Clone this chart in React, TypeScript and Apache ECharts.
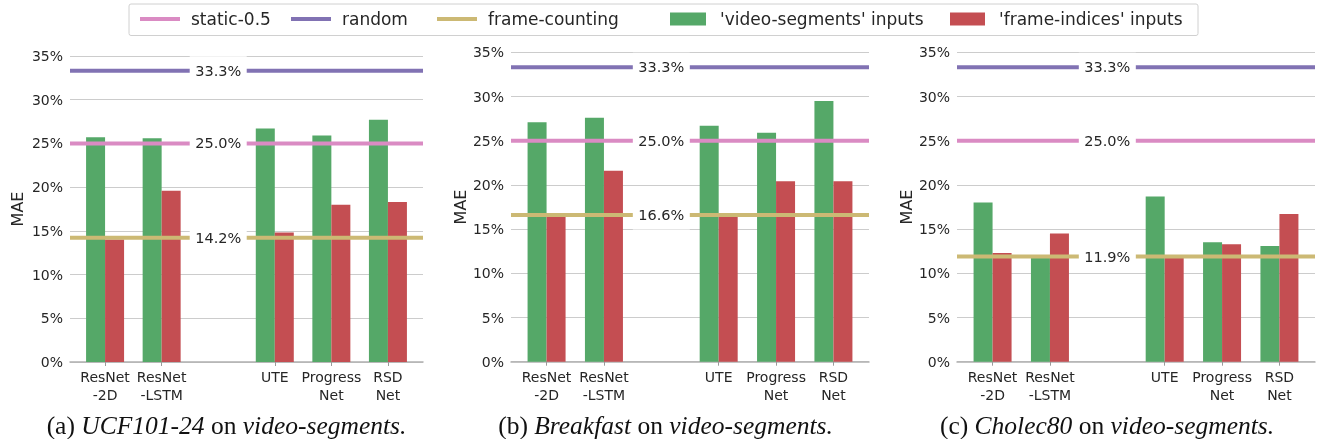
import React, { useEffect, useRef } from "react";
import * as echarts from "echarts";

// ---- data ----
const CATEGORY_LABELS = ["ResNet\n-2D", "ResNet\n-LSTM", "", "UTE", "Progress\nNet", "RSD\nNet"];
const CATEGORY_POS = [0, 1, 3, 4, 5];
const Y_TICKS = [0, 5, 10, 15, 20, 25, 30, 35];

const UCF_VIDEO = [25.7, 25.6, 26.7, 25.9, 27.7];
const UCF_FRAME = [14.0, 19.6, 14.8, 18.0, 18.3];
const BF_VIDEO = [27.1, 27.6, 26.7, 25.9, 29.5];
const BF_FRAME = [16.5, 21.6, 16.8, 20.4, 20.4];
const CH_VIDEO = [18.0, 11.8, 18.7, 13.5, 13.1];
const CH_FRAME = [12.3, 14.5, 11.8, 13.3, 16.7];

const STATIC_BASELINE = 25.0;
const RANDOM_BASELINE = 33.3;
const FRAME_COUNTING = [14.2, 16.6, 11.9];

const DATASETS = ["UCF101-24", "Breakfast", "Cholec80"];
const PANEL_LETTERS = ["(a)", "(b)", "(c)"];

const VS = "'video-segments' inputs";
const FI = "'frame-indices' inputs";

// ---- styles ----
const GREEN = "#55A868";
const RED = "#C44E52";
const PINK = "#DA8BC3";
const PURPLE = "#8172B3";
const KHAKI = "#CCB974";
const TEXT = "#262626";
const FONT = "DejaVu Sans";
const X_MIN = -0.62;
const X_MAX = 5.62;

const GRIDS = [
  { left: 70, top: 56, width: 353, height: 306 },
  { left: 511, top: 52.3, width: 358, height: 309.4 },
  { left: 957, top: 52.3, width: 358, height: 309.4 },
];
const NAME_GAPS = [45, 40, 42];
const CAPTION_X = [226.5, 665.5, 1107];

export default function App() {
  const ref = useRef<HTMLDivElement>(null);
  useEffect(() => {
    if (!ref.current) return;
    const chart = echarts.init(ref.current, undefined, { renderer: "svg" });
    const videoSets = [UCF_VIDEO, BF_VIDEO, CH_VIDEO];
    const frameSets = [UCF_FRAME, BF_FRAME, CH_FRAME];

    const xAxis: any[] = [];
    const yAxis: any[] = [];
    const series: any[] = [];
    GRIDS.forEach((_, i) => {
      xAxis.push({
        gridIndex: i,
        type: "value",
        min: X_MIN,
        max: X_MAX,
        splitLine: { show: false },
        axisLine: { show: true, lineStyle: { color: "#b0b0b0", width: 1.5 } },
        axisTick: { show: true, customValues: CATEGORY_POS, length: 4, lineStyle: { color: "#9a9a9a", width: 1 } },
        axisLabel: {
          customValues: CATEGORY_POS,
          formatter: (v: number) => CATEGORY_LABELS[Math.round(v)] ?? "",
          fontSize: 14,
          lineHeight: 18,
          color: TEXT,
          margin: 6,
          fontFamily: FONT,
        },
      });
      yAxis.push({
        gridIndex: i,
        type: "value",
        min: Y_TICKS[0],
        max: Y_TICKS[Y_TICKS.length - 1],
        interval: 5,
        name: "MAE",
        nameLocation: "middle",
        nameGap: NAME_GAPS[i],
        nameTextStyle: { fontSize: 16, color: TEXT, fontFamily: FONT },
        axisLine: { show: false },
        axisTick: { show: false },
        axisLabel: { formatter: "{value}%", fontSize: 14, color: TEXT, margin: 7, fontFamily: FONT },
        splitLine: { show: true, lineStyle: { color: "#cccccc", width: 1 } },
      });
      series.push(
        {
          type: "bar",
          name: VS,
          xAxisIndex: i,
          yAxisIndex: i,
          data: CATEGORY_POS.map((x, k) => [x, videoSets[i][k]]),
          barWidth: 19,
          barGap: "0%",
          itemStyle: { color: GREEN },
          color: GREEN,
          z: 2,
          silent: true,
        },
        {
          type: "bar",
          name: FI,
          xAxisIndex: i,
          yAxisIndex: i,
          data: CATEGORY_POS.map((x, k) => [x, frameSets[i][k]]),
          barWidth: 19,
          barGap: "0%",
          itemStyle: { color: RED },
          color: RED,
          z: 2,
          silent: true,
        },
        ...[
          { name: "static-0.5", v: STATIC_BASELINE, c: PINK },
          { name: "random", v: RANDOM_BASELINE, c: PURPLE },
          { name: "frame-counting", v: FRAME_COUNTING[i], c: KHAKI },
        ].map((l) => ({
          type: "line",
          name: l.name,
          xAxisIndex: i,
          yAxisIndex: i,
          data: [
            [X_MIN, l.v],
            [X_MAX, l.v],
          ],
          symbol: "none",
          color: l.c,
          lineStyle: { color: l.c, width: 4 },
          z: 3,
          silent: true,
        })),
        {
          type: "scatter",
          name: "labels",
          xAxisIndex: i,
          yAxisIndex: i,
          data: [
            [2, RANDOM_BASELINE],
            [2, STATIC_BASELINE],
            [2, FRAME_COUNTING[i]],
          ],
          symbol: "rect",
          symbolSize: [57, 29],
          itemStyle: { color: "#ffffff", opacity: 1 },
          label: {
            show: true,
            position: "inside",
            formatter: (p: any) => p.value[1].toFixed(1) + "%",
            fontSize: 14.5,
            color: TEXT,
            opacity: 1,
            fontFamily: FONT,
          },
          z: 5,
          silent: true,
        }
      );
    });

    const legendItems = [
      { name: "static-0.5", left: 140, w: 40, h: 4, pad: 6 },
      { name: "random", left: 291, w: 40, h: 4, pad: 6 },
      { name: "frame-counting", left: 437, w: 40, h: 4, pad: 6 },
      { name: VS, left: 670, w: 36, h: 13, pad: 9 },
      { name: FI, left: 950, w: 35, h: 13, pad: 9 },
    ];

    const captions = GRIDS.map((_, i) => ({
      type: "text",
      x: CAPTION_X[i],
      y: 425,
      style: {
        text: `{n|${PANEL_LETTERS[i]} }{i|${DATASETS[i]}}{n| on }{i|video-segments.}`,
        align: "center",
        verticalAlign: "middle",
        rich: {
          n: { fontFamily: "Liberation Serif", fontSize: 25.5, fill: "#111" },
          i: { fontFamily: "Liberation Serif", fontSize: 25.5, fontStyle: "italic", fill: "#111" },
        },
      },
    }));

    chart.setOption({
      animation: false,
      textStyle: { fontFamily: FONT },
      grid: GRIDS.map((g) => ({ ...g, containLabel: false })),
      xAxis,
      yAxis,
      series,
      legend: legendItems.map((l) => ({
        data: [{ name: l.name, icon: "rect" }],
        left: l.left,
        top: 9,
        padding: 0,
        itemWidth: l.w,
        itemHeight: l.h,
        selectedMode: false,
        textStyle: { fontSize: 17, color: TEXT, fontFamily: FONT, lineHeight: 20, padding: [0, 0, 0, l.pad] },
      })),
      graphic: [
        {
          type: "rect",
          z: 0,
          shape: { x: 129, y: 4, width: 1069, height: 31.5, r: 2 },
          style: { fill: "#ffffff", stroke: "#d0d0d0", lineWidth: 1 },
        },
        ...captions,
      ],
    });
    return () => chart.dispose();
  }, []);
  return <div ref={ref} style={{ position: "fixed", left: 0, top: 0, width: 1317, height: 439 }} />;
}
